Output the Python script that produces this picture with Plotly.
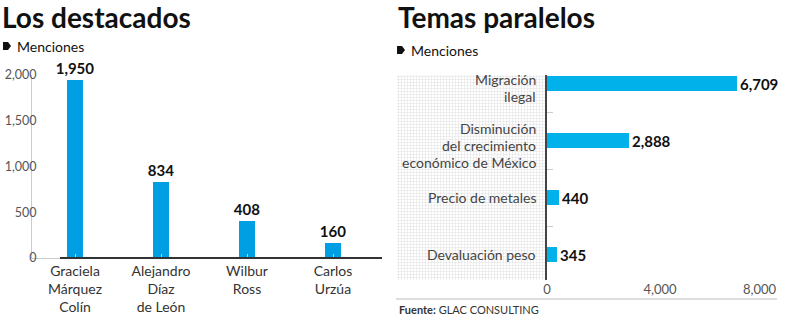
import plotly.graph_objects as go

# Left panel: most-mentioned people
people = ["Graciela<br>Márquez<br>Colín", "Alejandro<br>Díaz<br>de León", "Wilbur<br>Ross", "Carlos<br>Urzúa"]
people_mentions = [1950, 834, 408, 160]
left_ticks = [0, 500, 1000, 1500, 2000]

# Right panel: parallel topics
topics = ["Migración<br>ilegal", "Disminución<br>del crecimiento<br>económico de México",
          "Precio de metales", "Devaluación peso"]
topic_mentions = [6709, 2888, 440, 345]
right_ticks = [0, 4000, 8000]

W, H = 800, 321
FONT = "Lato"
BLUE_L = "#009ee3"
BLUE_R = "#00b1ea"
LINE_STEP = 17


def px(x):
    return x / W


def py(y):
    return 1 - y / H


fig = go.Figure()

# dotted backdrop behind the topic labels (own subplot, drawn first)
fig.add_trace(go.Scatter(
    x=[0, 1, 1, 0, 0], y=[0, 0, 1, 1, 0], mode="lines", fill="toself",
    line=dict(width=0), fillcolor="rgba(0,0,0,0)",
    fillpattern=dict(shape="+", size=3, solidity=0.3, fgcolor="#bdbdbd", bgcolor="#ffffff"),
    xaxis="x2", yaxis="y2", hoverinfo="skip", showlegend=False,
))

fig.add_trace(go.Bar(
    x=list(range(len(people))), y=people_mentions,
    marker=dict(color=BLUE_L, line=dict(width=0)), width=0.175,
    texttemplate="<b>%{y:,}</b>", textposition="outside", constraintext="none",
    textfont=dict(family=FONT, size=15, color="#111"),
    cliponaxis=False, xaxis="x", yaxis="y", hoverinfo="skip",
))

fig.add_trace(go.Bar(
    y=list(range(len(topics))), x=topic_mentions, orientation="h",
    marker=dict(color=BLUE_R, line=dict(width=0)), width=0.263,
    texttemplate="<b>%{x:,}</b>", textposition="outside", constraintext="none",
    textfont=dict(family=FONT, size=15, color="#111"),
    cliponaxis=False, xaxis="x3", yaxis="y3", hoverinfo="skip",
))

shapes = []
annotations = []

# titles
annotations.append(dict(text="<b>Los destacados</b>", x=px(0), y=py(17), xref="paper", yref="paper",
                        xanchor="left", yanchor="middle", showarrow=False,
                        font=dict(family=FONT, size=28, color="#111")))
annotations.append(dict(text="<b>Temas paralelos</b>", x=px(396), y=py(17), xref="paper", yref="paper",
                        xanchor="left", yanchor="middle", showarrow=False,
                        font=dict(family=FONT, size=28, color="#111")))

# "Menciones" keys with tag markers
for kx, ky in [(3, 46), (397, 50)]:
    x0, x1, y0, y1 = px(kx), px(kx + 8), py(ky - 4), py(ky + 4)
    xm = px(kx + 5)
    shapes.append(dict(type="path", xref="paper", yref="paper",
                       path=f"M {x0} {y0} L {xm} {y0} L {x1} {(y0 + y1) / 2} L {xm} {y1} L {x0} {y1} Z",
                       fillcolor="#111", line=dict(width=0)))
    annotations.append(dict(text="Menciones", x=px(kx + 12), y=py(ky), xref="paper", yref="paper",
                            xanchor="left", yanchor="middle", showarrow=False,
                            font=dict(family=FONT, size=14, color="#111")))

# topic labels, each line right-aligned against the axis
for i, label in enumerate(topics):
    parts = label.split("<br>")
    n = len(parts)
    base = -5 if n > 1 else 0
    for k, part in enumerate(parts):
        annotations.append(dict(text=part, x=px(538), y=i, xref="paper", yref="y3",
                                xanchor="right", yanchor="middle",
                                yshift=base - (k - (n - 1) / 2) * LINE_STEP, showarrow=False,
                                font=dict(family=FONT, size=14, color="#444")))

# left baseline (dark under the bars)
shapes.append(dict(type="line", xref="paper", yref="paper", x0=px(60), x1=px(382), y0=py(258), y1=py(258),
                   line=dict(color="#333", width=2)))

# source rule and note
shapes.append(dict(type="line", xref="paper", yref="paper", x0=px(396), x1=px(777), y0=py(299), y1=py(299),
                   line=dict(color="#bbbbbb", width=1)))
annotations.append(dict(text="<b>Fuente:</b> GLAC CONSULTING", x=px(397), y=py(309), xref="paper", yref="paper",
                        xanchor="left", yanchor="middle", showarrow=False,
                        font=dict(family=FONT, size=11, color="#333")))

# last value label on the topic axis kept inside the frame
annotations.append(dict(text=f"{right_ticks[-1]:,}", x=right_ticks[-1], y=py(289), xref="x3", yref="paper",
                        yanchor="middle", xanchor="right", xshift=6,
                        showarrow=False, font=dict(family=FONT, size=13, color="#555")))

fig.update_layout(
    width=W, height=H, margin=dict(l=0, r=0, t=0, b=0, pad=0, autoexpand=False),
    paper_bgcolor="white", plot_bgcolor="rgba(0,0,0,0)",
    showlegend=False, bargap=0,
    font=dict(family=FONT, color="#444"),
    shapes=shapes, annotations=annotations,
    xaxis=dict(domain=[px(32), px(376)], range=[-0.5, 3.5],
               tickvals=list(range(len(people))), ticktext=people,
               tickfont=dict(family=FONT, size=14, color="#333"),
               ticks="inside", tickson="boundaries", ticklen=4, tickcolor="#cccccc",
               showline=True, linecolor="#cccccc", linewidth=1, automargin=False,
               showgrid=False, zeroline=False, anchor="y", fixedrange=True),
    yaxis=dict(domain=[py(258), py(75)], range=[0, 2000],
               tickvals=left_ticks, ticktext=[f"{v:,}" for v in left_ticks],
               tickfont=dict(family=FONT, size=12.5, color="#555"),
               ticks="", showline=True, linecolor="#cccccc", linewidth=1, automargin=False,
               ticklabelstandoff=-8,
               showgrid=False, zeroline=False, anchor="x", fixedrange=True),
    xaxis2=dict(domain=[px(397), px(546)], range=[0, 1], visible=False, anchor="y2",
                automargin=False, fixedrange=True),
    yaxis2=dict(domain=[py(280), py(75)], range=[0, 1], visible=False, anchor="x2",
                automargin=False, fixedrange=True),
    xaxis3=dict(domain=[px(547), px(773)], range=[0, 8000],
                tickvals=right_ticks[:-1], ticktext=[f"{v:,}" for v in right_ticks[:-1]],
                tickfont=dict(family=FONT, size=13, color="#555"),
                ticks="", showline=False, showgrid=False, zeroline=False, automargin=False,
                anchor="y3", fixedrange=True),
    yaxis3=dict(domain=[py(280), py(75)], range=[3.447, -0.149],
                tickvals=[i + 0.5 for i in range(len(topics) - 1)], showticklabels=False,
                ticks="inside", ticklen=6, tickcolor="#cccccc",
                showline=True, linecolor="#444", linewidth=2, automargin=False,
                showgrid=False, zeroline=False, anchor="x3", fixedrange=True),
)

fig.write_html("out.html")
